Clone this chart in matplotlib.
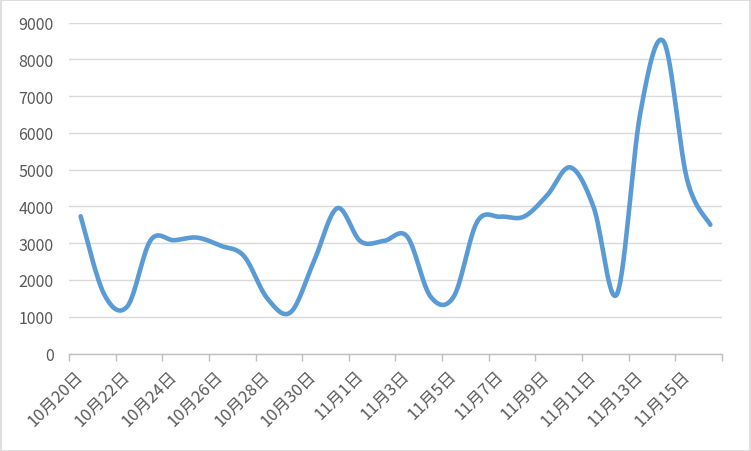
import numpy as np
import matplotlib
matplotlib.use("Agg")
import matplotlib.pyplot as plt
from matplotlib.patches import Rectangle

plt.rcParams['font.family'] = ['Noto Sans CJK SC', 'DejaVu Sans']

# 每日数值 (10月20日 - 11月16日)
dates = ['10月20日', '10月21日', '10月22日', '10月23日', '10月24日', '10月25日',
         '10月26日', '10月27日', '10月28日', '10月29日', '10月30日', '10月31日',
         '11月1日', '11月2日', '11月3日', '11月4日', '11月5日', '11月6日',
         '11月7日', '11月8日', '11月9日', '11月10日', '11月11日', '11月12日',
         '11月13日', '11月14日', '11月15日', '11月16日']
values = [3730, 1620, 1280, 3080, 3080, 3150, 2930, 2650, 1500, 1120,
          2500, 3950, 3050, 3060, 3180, 1550, 1550, 3580, 3720, 3720,
          4300, 5060, 3970, 1620, 6550, 8480, 4740, 3500]
y_ticks = [0, 1000, 2000, 3000, 4000, 5000, 6000, 7000, 8000, 9000]


def smooth_line(x, y, n=30):
    """Excel 风格的平滑曲线 (Catmull-Rom 贝塞尔)"""
    x = np.asarray(x, float)
    y = np.asarray(y, float)
    px = np.concatenate([[x[0]], x, [x[-1]]])
    py = np.concatenate([[y[0]], y, [y[-1]]])
    xs, ys = [], []
    t = np.linspace(0, 1, n)
    for i in range(1, len(px) - 2):
        p0 = np.array([px[i], py[i]])
        p3 = np.array([px[i + 1], py[i + 1]])
        c1 = p0 + (np.array([px[i + 1], py[i + 1]]) - np.array([px[i - 1], py[i - 1]])) / 6
        c2 = p3 - (np.array([px[i + 2], py[i + 2]]) - np.array([px[i], py[i]])) / 6
        b = ((1 - t) ** 3)[:, None] * p0 + (3 * (1 - t) ** 2 * t)[:, None] * c1 \
            + (3 * (1 - t) * t ** 2)[:, None] * c2 + (t ** 3)[:, None] * p3
        xs.extend(b[:, 0])
        ys.extend(b[:, 1])
    return np.array(xs), np.array(ys)


fig = plt.figure(figsize=(7.51, 4.52), dpi=100)
fig.patches.append(Rectangle((0.001, 0.001), 0.998, 0.997, transform=fig.transFigure,
                             fill=False, edgecolor='#d9d9d9', linewidth=1.2))
ax = fig.add_axes([69 / 751, 1 - 354.5 / 452, (722 - 69) / 751, (354.5 - 23.5) / 452])

x = np.arange(len(values))
sx, sy = smooth_line(x, values)
ax.plot(sx, sy, color='#5b9bd5', linewidth=3.3, solid_capstyle='round', zorder=3)

ax.set_xlim(-0.5, len(values) - 0.5)
ax.set_ylim(0, 9000)
ax.set_yticks(y_ticks)
ax.set_yticklabels([str(v) for v in y_ticks], fontsize=11.5, color='#595959')
ax.yaxis.grid(True, color='#d9d9d9', linewidth=1.0)
ax.set_axisbelow(True)

# 刻度线位于类别之间, 标签每隔一天
ax.set_xticks(np.arange(-0.5, len(values), 2))
ax.set_xticklabels([])
ax.tick_params(axis='x', which='major', length=5, color='#bfbfbf', width=1)
ax.tick_params(axis='y', length=0, pad=11)
ax.set_xticks(x[::2], minor=True)
ax.set_xticklabels(dates[::2], minor=True, rotation=45, ha='right', va='center',
                   rotation_mode='anchor', fontsize=12, color='#595959')
ax.tick_params(axis='x', which='minor', length=0, pad=14)

for side in ['top', 'right', 'left']:
    ax.spines[side].set_visible(False)
ax.spines['bottom'].set_color('#bfbfbf')
ax.spines['bottom'].set_linewidth(1)

fig.savefig('out.png', dpi=100)
